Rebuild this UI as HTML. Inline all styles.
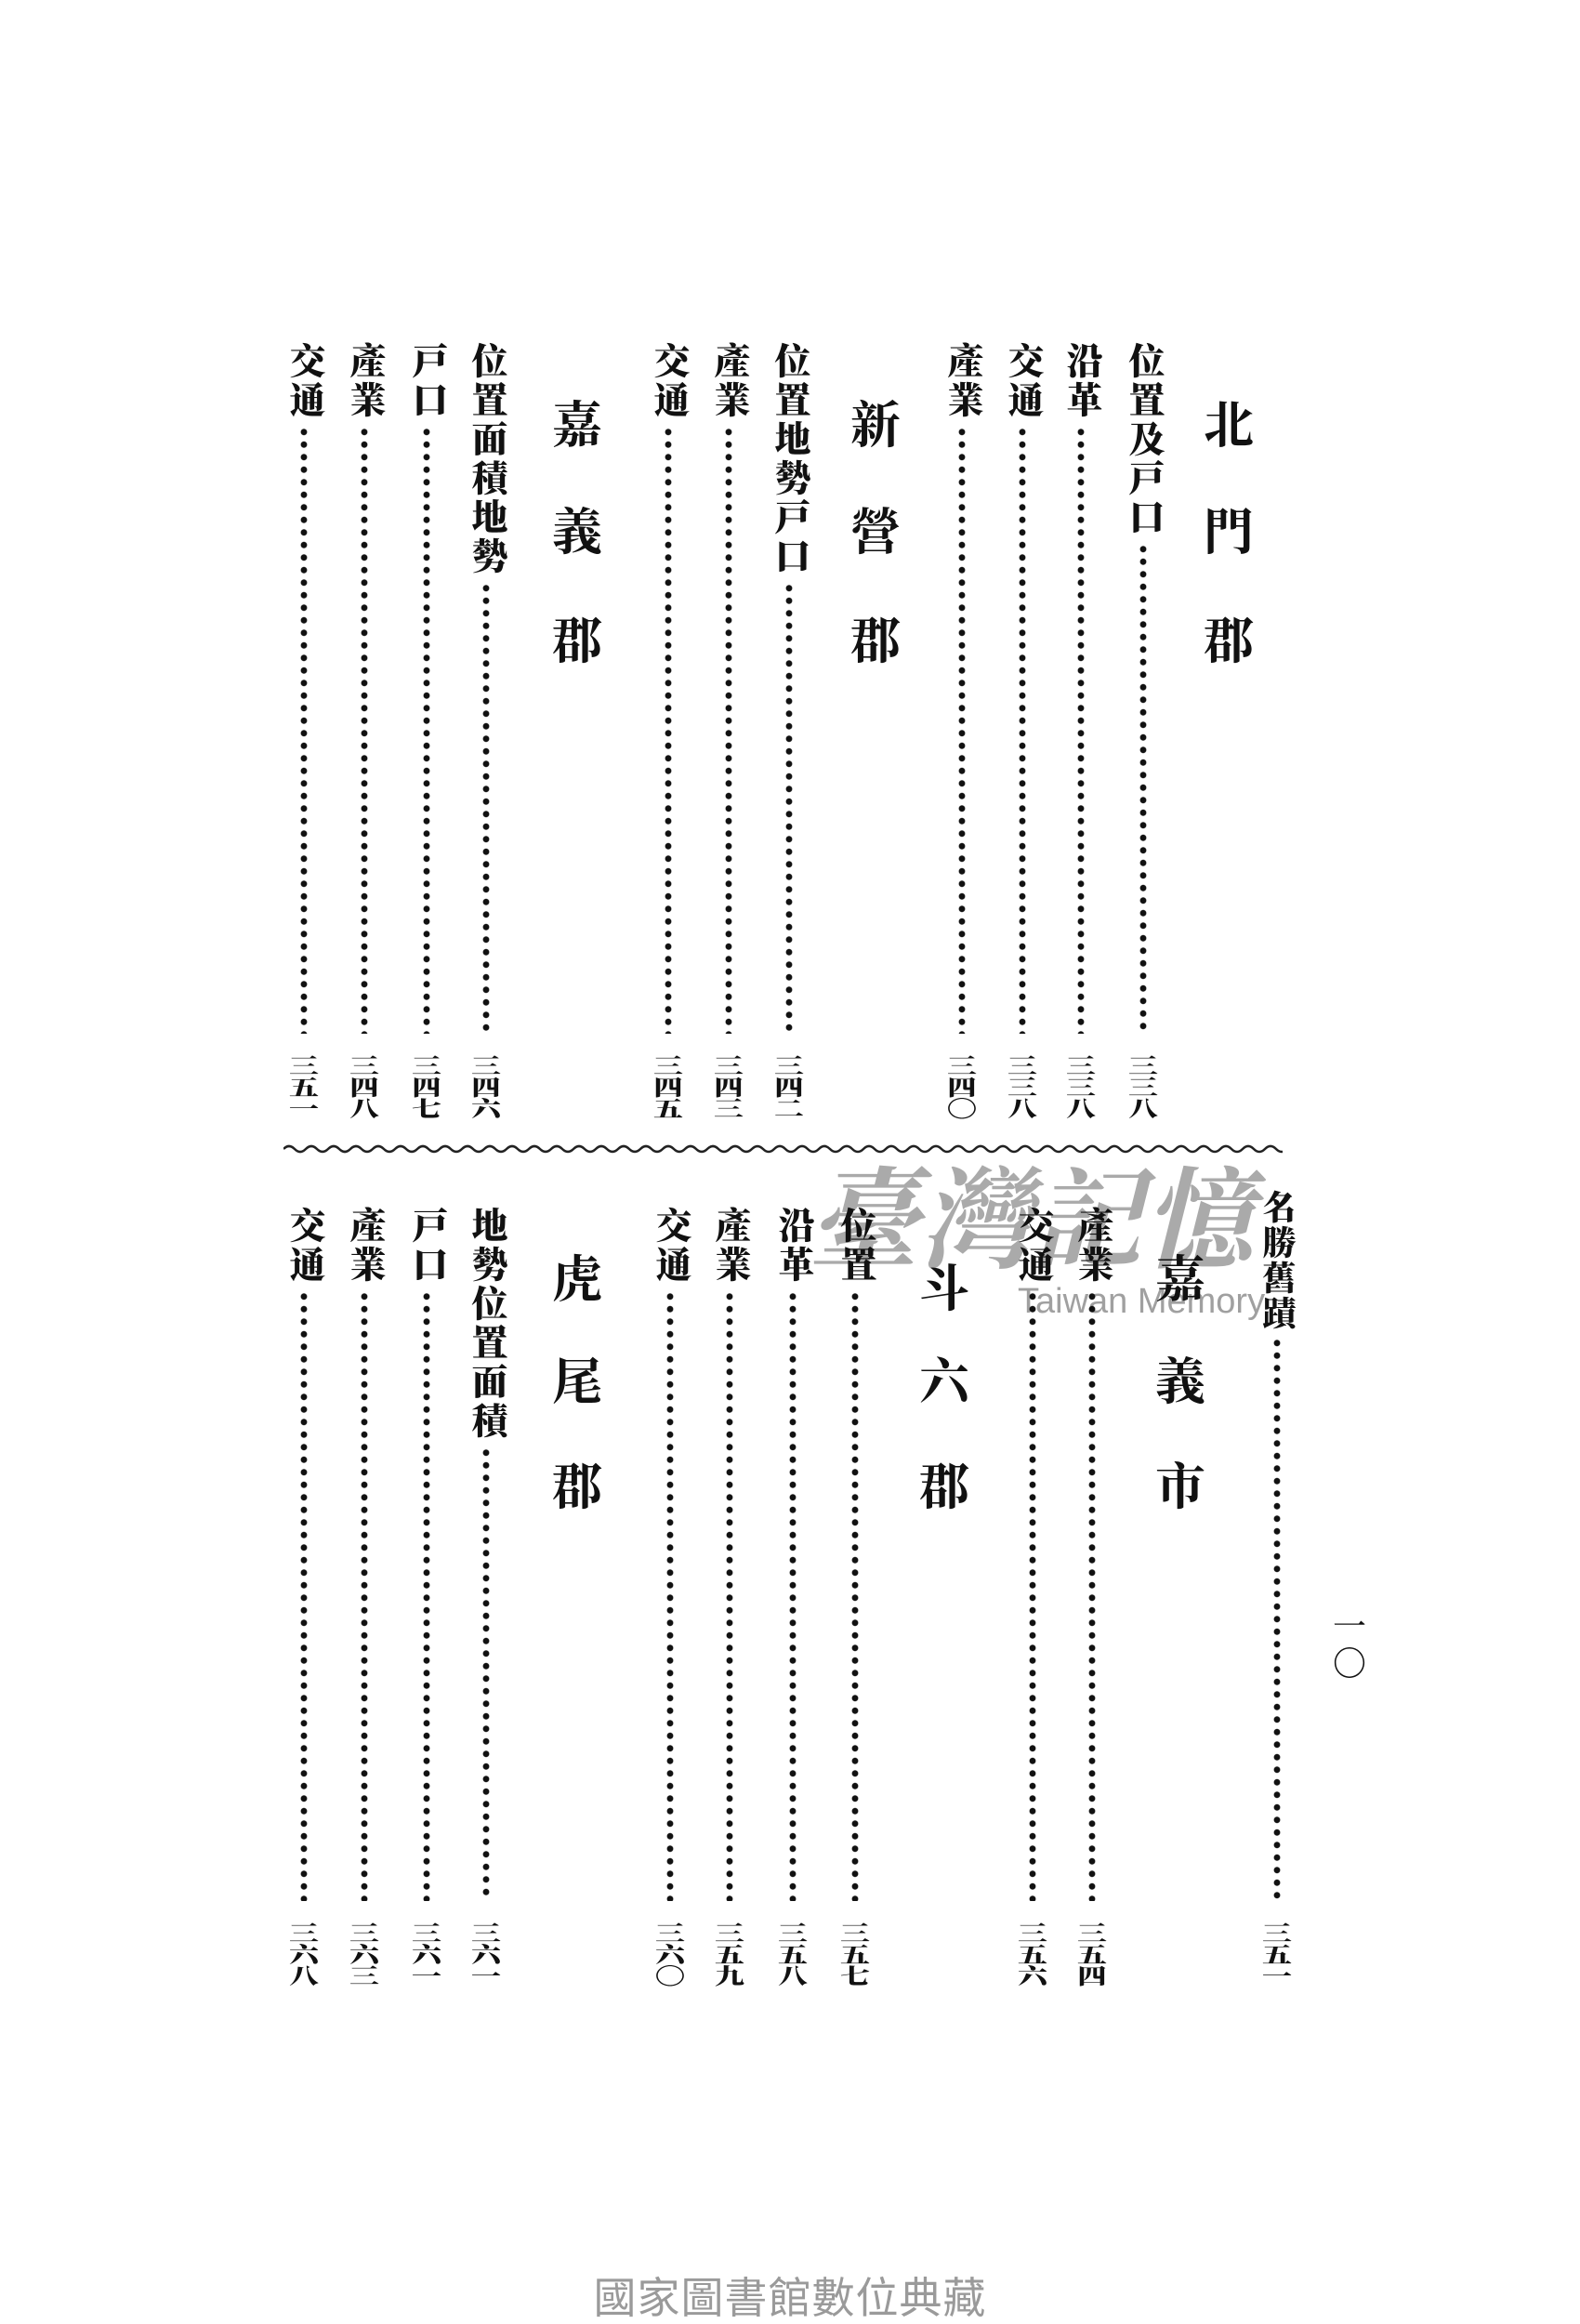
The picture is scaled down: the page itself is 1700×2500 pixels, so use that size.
<!DOCTYPE html>
<html><head><meta charset="utf-8">
<style>
html,body{margin:0;padding:0;background:#fff;}
body{width:1700px;height:2500px;position:relative;overflow:hidden;font-family:"Liberation Serif","Noto Serif CJK SC","Noto Serif CJK TC",serif;color:#111;}
.e{position:absolute;width:46px;display:flex;flex-direction:column;align-items:center;}
.l{writing-mode:vertical-rl;font-size:39px;line-height:46px;font-weight:900;letter-spacing:3px;}
.d{flex:1;width:46px;margin-top:6px;background-image:radial-gradient(circle,#111 3px,transparent 3.8px);background-size:46px 13.5px;background-repeat:repeat-y;background-position:center top;}
.n{margin-top:24px;height:70px;width:46px;display:flex;flex-direction:column;align-items:center;}
.n span{display:block;font-size:32px;line-height:23px;height:23px;transform:scaleY(0.72);font-weight:900;}
.h{position:absolute;width:70px;text-align:center;font-size:54px;line-height:54px;font-weight:bold;}
.h span{position:absolute;left:0;width:70px;}
</style></head><body>

<div class="h" style="left:1287px;top:0"><span style="top:431px">北</span><span style="top:546px">門</span><span style="top:663px">郡</span></div>
<div class="e" style="left:1207px;top:368px;height:838px"><div class="l">位置及戸口</div><div class="d"></div><div class="n"><span>三</span><span>三</span><span>八</span></div></div>
<div class="e" style="left:1140px;top:368px;height:838px"><div class="l">沿革</div><div class="d"></div><div class="n"><span>三</span><span>三</span><span>八</span></div></div>
<div class="e" style="left:1077px;top:368px;height:838px"><div class="l">交通</div><div class="d"></div><div class="n"><span>三</span><span>三</span><span>八</span></div></div>
<div class="e" style="left:1012px;top:368px;height:838px"><div class="l">產業</div><div class="d"></div><div class="n"><span>三</span><span>四</span><span>〇</span></div></div>

<div class="h" style="left:907px;top:0"><span style="top:431px">新</span><span style="top:546px">營</span><span style="top:663px">郡</span></div>
<div class="e" style="left:826px;top:368px;height:838px"><div class="l">位置地勢戸口</div><div class="d"></div><div class="n"><span>三</span><span>四</span><span>二</span></div></div>
<div class="e" style="left:761px;top:368px;height:838px"><div class="l">產業</div><div class="d"></div><div class="n"><span>三</span><span>四</span><span>三</span></div></div>
<div class="e" style="left:696px;top:368px;height:838px"><div class="l">交通</div><div class="d"></div><div class="n"><span>三</span><span>四</span><span>五</span></div></div>

<div class="h" style="left:586px;top:0"><span style="top:431px">嘉</span><span style="top:546px">義</span><span style="top:663px">郡</span></div>
<div class="e" style="left:500px;top:368px;height:838px"><div class="l">位置面積地勢</div><div class="d"></div><div class="n"><span>三</span><span>四</span><span>六</span></div></div>
<div class="e" style="left:436px;top:368px;height:838px"><div class="l">戸口</div><div class="d"></div><div class="n"><span>三</span><span>四</span><span>七</span></div></div>
<div class="e" style="left:369px;top:368px;height:838px"><div class="l">產業</div><div class="d"></div><div class="n"><span>三</span><span>四</span><span>八</span></div></div>
<div class="e" style="left:304px;top:368px;height:838px"><div class="l">交通</div><div class="d"></div><div class="n"><span>三</span><span>五</span><span>一</span></div></div>

<svg style="position:absolute;left:305px;top:1226px" width="1075" height="20">
<path d="M0 10 q6 -6 12 0 t12 0 t12 0 t12 0 t12 0 t12 0 t12 0 t12 0 t12 0 t12 0 t12 0 t12 0 t12 0 t12 0 t12 0 t12 0 t12 0 t12 0 t12 0 t12 0 t12 0 t12 0 t12 0 t12 0 t12 0 t12 0 t12 0 t12 0 t12 0 t12 0 t12 0 t12 0 t12 0 t12 0 t12 0 t12 0 t12 0 t12 0 t12 0 t12 0 t12 0 t12 0 t12 0 t12 0 t12 0 t12 0 t12 0 t12 0 t12 0 t12 0 t12 0 t12 0 t12 0 t12 0 t12 0 t12 0 t12 0 t12 0 t12 0 t12 0 t12 0 t12 0 t12 0 t12 0 t12 0 t12 0 t12 0 t12 0 t12 0 t12 0 t12 0 t12 0 t12 0 t12 0 t12 0 t12 0 t12 0 t12 0 t12 0 t12 0 t12 0 t12 0 t12 0 t12 0 t12 0 t12 0 t12 0 t12 0 t12 0 t12 0 t12 0 t12 0" fill="none" stroke="#222" stroke-width="2.5"/>
</svg>

<div style="position:absolute;left:870px;top:1250px;font-size:118px;line-height:130px;color:#aaa;font-style:italic;font-weight:bold;letter-spacing:2px;">臺灣記憶</div>
<div style="position:absolute;left:1095px;top:1378px;font-size:38px;line-height:44px;color:#a0a0a0;font-family:'Liberation Sans',sans-serif;">Taiwan Memory</div>

<div class="e" style="left:1351px;top:1280px;height:859px"><div class="l" style="font-size:36px;line-height:40px;letter-spacing:2px">名勝舊蹟</div><div class="d"></div><div class="n"><span>三</span><span>五</span><span>一</span></div></div>
<div class="h" style="left:1235px;top:0"><span style="top:1350px">嘉</span><span style="top:1460px">義</span><span style="top:1573px">市</span></div>
<div class="e" style="left:1152px;top:1298px;height:841px"><div class="l">產業</div><div class="d"></div><div class="n"><span>三</span><span>五</span><span>四</span></div></div>
<div class="e" style="left:1088px;top:1298px;height:841px"><div class="l">交通</div><div class="d"></div><div class="n"><span>三</span><span>五</span><span>六</span></div></div>

<div class="h" style="left:981px;top:0"><span style="top:1360px">斗</span><span style="top:1460px">六</span><span style="top:1573px">郡</span></div>
<div class="e" style="left:897px;top:1298px;height:841px"><div class="l">位置</div><div class="d"></div><div class="n"><span>三</span><span>五</span><span>七</span></div></div>
<div class="e" style="left:830px;top:1298px;height:841px"><div class="l">沿革</div><div class="d"></div><div class="n"><span>三</span><span>五</span><span>八</span></div></div>
<div class="e" style="left:762px;top:1298px;height:841px"><div class="l">產業</div><div class="d"></div><div class="n"><span>三</span><span>五</span><span>九</span></div></div>
<div class="e" style="left:698px;top:1298px;height:841px"><div class="l">交通</div><div class="d"></div><div class="n"><span>三</span><span>六</span><span>〇</span></div></div>

<div class="h" style="left:586px;top:0"><span style="top:1350px">虎</span><span style="top:1460px">尾</span><span style="top:1573px">郡</span></div>
<div class="e" style="left:500px;top:1298px;height:841px"><div class="l">地勢位置面積</div><div class="d"></div><div class="n"><span>三</span><span>六</span><span>一</span></div></div>
<div class="e" style="left:436px;top:1298px;height:841px"><div class="l">戸口</div><div class="d"></div><div class="n"><span>三</span><span>六</span><span>一</span></div></div>
<div class="e" style="left:369px;top:1298px;height:841px"><div class="l">產業</div><div class="d"></div><div class="n"><span>三</span><span>六</span><span>三</span></div></div>
<div class="e" style="left:304px;top:1298px;height:841px"><div class="l">交通</div><div class="d"></div><div class="n"><span>三</span><span>六</span><span>八</span></div></div>

<div style="position:absolute;left:1432px;top:1730px;width:40px;text-align:center;font-size:36px;line-height:40px;">一<br>〇</div>

<div style="position:absolute;left:0;width:1700px;top:2445px;text-align:center;font-family:'Liberation Sans','Noto Sans CJK TC',sans-serif;font-size:46px;line-height:54px;color:#9a9a9a;letter-spacing:1px;">國家圖書館數位典藏</div>

</body></html>
